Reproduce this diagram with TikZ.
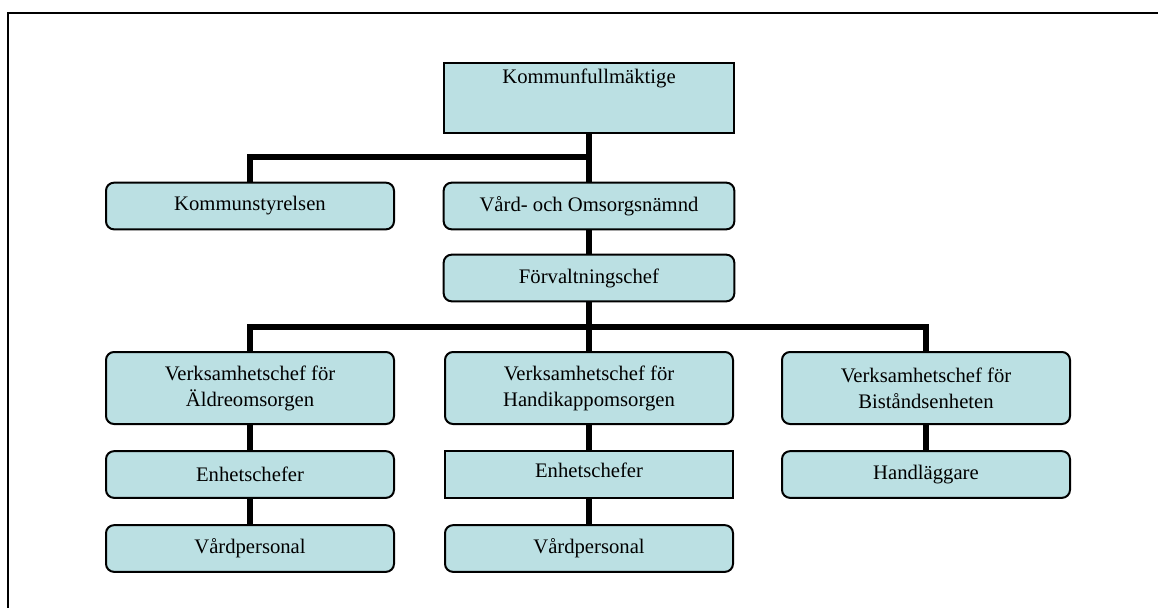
\documentclass[tikz,border=0pt]{standalone}
\usepackage{fontspec}
\setmainfont{Liberation Serif}
\definecolor{boxfill}{RGB}{187,224,227}
\tikzset{
  unit/.style={rectangle, draw=black, line width=1.5pt, fill=boxfill, minimum width=216pt, minimum height=35pt, align=center, inner sep=2pt, font=\fontsize{15.5}{19.5}\selectfont},
  roundunit/.style={unit, rounded corners=6pt},
  link/.style={line width=4.5pt, draw=black, line join=miter}
}
\begin{document}
\begin{tikzpicture}[x=0.75pt, y=-0.75pt]
\useasboundingbox (0,0) rectangle (1158,608);
\draw[line width=1.5pt] (1158,13) -- (8,13) -- (8,608);
\node[unit, minimum width=218pt, minimum height=52.5pt, inner ysep=5pt, text depth=32pt] (fullm) at (589,98) {Kommunfullmäktige};
\node[roundunit] (styr) at (250,206) {Kommunstyrelsen};
\node[roundunit, minimum width=218pt] (von) at (589,206) {Vård- och Omsorgsnämnd};
\node[roundunit, minimum width=218pt] (forv) at (589,278) {Förvaltningschef};
\node[roundunit, minimum height=54pt] (vaeld) at (250,388) {Verksamhetschef för\\Äldreomsorgen};
\node[roundunit, minimum height=54pt] (vhand) at (589,388) {Verksamhetschef för\\Handikappomsorgen};
\node[roundunit, minimum height=54pt] (vbist) at (926,388) {Verksamhetschef för\\Biståndsenheten};
\node[roundunit] (eaeld) at (250,474.5) {Enhetschefer};
\node[unit, text depth=6pt] (ehand) at (589,474.5) {Enhetschefer};
\node[roundunit] (hbist) at (926,474.5) {Handläggare};
\node[roundunit] (paeld) at (250,548.5) {Vårdpersonal};
\node[roundunit] (phand) at (589,548.5) {Vårdpersonal};
\coordinate (top) at (589,157);
\coordinate (mid) at (589,327);
\path [link] (fullm) edge (von);
\path [link] (styr.north) |- (top);
\path [link] (von) edge (forv);
\path [link] (forv) edge (vhand);
\path [link] (vaeld.north) |- (mid);
\path [link] (vbist.north) |- (mid);
\path [link] (vaeld) edge (eaeld);
\path [link] (eaeld) edge (paeld);
\path [link] (vhand) edge (ehand);
\path [link] (ehand) edge (phand);
\path [link] (vbist) edge (hbist);
\end{tikzpicture}
\end{document}
